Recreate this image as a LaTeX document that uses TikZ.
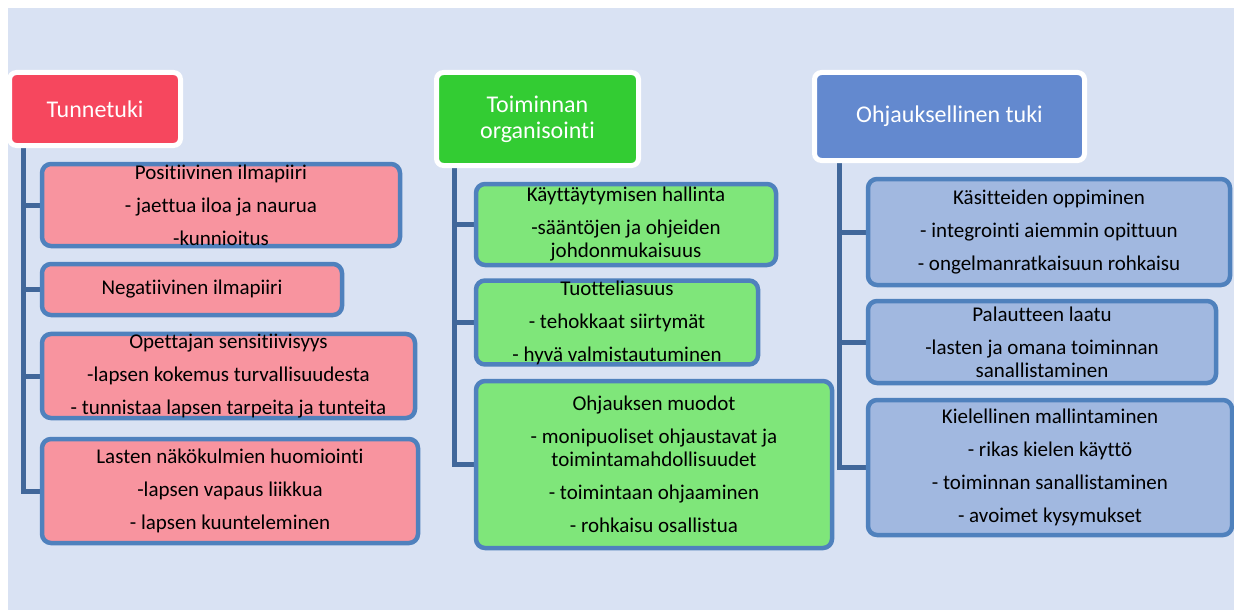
\documentclass[tikz,border=0pt]{standalone}
\usepackage{fontspec}
\setmainfont{Carlito}[Ligatures={NoCommon}]
\usepackage{tikz}
\usetikzlibrary{backgrounds}
\definecolor{bgblue}{HTML}{D9E2F3}
\definecolor{boxline}{HTML}{4F81BD}
\definecolor{spineblue}{HTML}{41679A}
\definecolor{tunnered}{HTML}{F6475E}
\definecolor{tunnepink}{HTML}{F8949F}
\definecolor{orggreen}{HTML}{33CC33}
\definecolor{orglight}{HTML}{7FE67A}
\definecolor{ohjblue}{HTML}{6389CF}
\definecolor{ohjlight}{HTML}{A1B8E0}

\tikzset{
  head/.style={draw=white, line width=5pt, rounded corners=7pt, text=white,
    align=center, inner sep=0pt, font=\fontsize{24}{26}\selectfont},
  subbox/.style={draw=boxline, line width=4.5pt, rounded corners=9pt,
    align=center, inner sep=0pt, font=\fontsize{21}{23}\selectfont},
  spine/.style={draw=spineblue, line width=5pt},
}

\begin{document}
\begin{tikzpicture}[x=1pt, y=-1pt]
  \useasboundingbox (0,0) rectangle (1234,610);

  % otsikot
  \node[head, fill=tunnered, minimum width=171pt, minimum height=73pt] (tunne) at (95,109) {Tunnetuki};
  \node[head, fill=orggreen, minimum width=202pt, minimum height=93pt] (org) at (537.5,119) {Toiminnan\\organisointi};
  \node[head, fill=ohjblue, minimum width=270pt, minimum height=88pt] (ohj) at (949.5,116.5) {Ohjauksellinen tuki};

  % Tunnetuki
  \node[subbox, fill=tunnepink, minimum width=358pt, minimum height=82pt] (tunne1) at (221,205)
    {Positiivinen ilmapiiri\\[10pt]- jaettua iloa ja naurua\\[10pt]-kunnioitus};
  \node[subbox, fill=tunnepink, minimum width=300pt, minimum height=51pt] (tunne2) at (192,289.5)
    {Negatiivinen ilmapiiri};
  \node[subbox, fill=tunnepink, minimum width=373pt, minimum height=84pt] (tunne3) at (228.5,376)
    {Opettajan sensitiivisyys\\[10pt]-lapsen kokemus turvallisuudesta\\[10pt]- tunnistaa lapsen tarpeita ja tunteita};
  \node[subbox, fill=tunnepink, minimum width=376pt, minimum height=104pt] (tunne4) at (230,491)
    {Lasten näkökulmien huomiointi\\[10pt]-lapsen vapaus liikkua\\[10pt]- lapsen kuunteleminen};

  % Toiminnan organisointi
  \node[subbox, fill=orglight, minimum width=300pt, minimum height=81pt] (org1) at (626,224.5)
    {Käyttäytymisen hallinta\\[10pt]-sääntöjen ja ohjeiden\\johdonmukaisuus};
  \node[subbox, fill=orglight, minimum width=282pt, minimum height=81pt] (org2) at (617,322.5)
    {Tuotteliasuus\\[10pt]- tehokkaat siirtymät\\[10pt]- hyvä valmistautuminen};
  \node[subbox, fill=orglight, minimum width=356pt, minimum height=167pt] (org3) at (654,464.5)
    {Ohjauksen muodot\\[10pt]- monipuoliset ohjaustavat ja\\toimintamahdollisuudet\\[10pt]- toimintaan ohjaaminen\\[10pt]- rohkaisu osallistua};

  % Ohjauksellinen tuki
  \node[subbox, fill=ohjlight, minimum width=362pt, minimum height=106pt] (ohj1) at (1049,232)
    {Käsitteiden oppiminen\\[10pt]- integrointi aiemmin opittuun\\[10pt]- ongelmanratkaisuun rohkaisu};
  \node[subbox, fill=ohjlight, minimum width=348pt, minimum height=82pt] (ohj2) at (1042,342)
    {Palautteen laatu\\[10pt]-lasten ja omana toiminnan\\sanallistaminen};
  \node[subbox, fill=ohjlight, minimum width=364pt, minimum height=135pt] (ohj3) at (1050,467.5)
    {Kielellinen mallintaminen\\[10pt]- rikas kielen käyttö\\[10pt]- toiminnan sanallistaminen\\[10pt]- avoimet kysymukset};

  \begin{scope}[on background layer]
    \fill[bgblue] (8,8) rectangle (1234,610);
    \foreach \b in {tunne1,tunne2,tunne3,tunne4}
      \draw[spine] ([xshift=16pt]tunne.south west) |- (\b.west);
    \foreach \b in {org1,org2,org3}
      \draw[spine] ([xshift=20.5pt]org.south west) |- (\b.west);
    \foreach \b in {ohj1,ohj2,ohj3}
      \draw[spine] ([xshift=27.5pt]ohj.south west) |- (\b.west);
  \end{scope}
\end{tikzpicture}
\end{document}
